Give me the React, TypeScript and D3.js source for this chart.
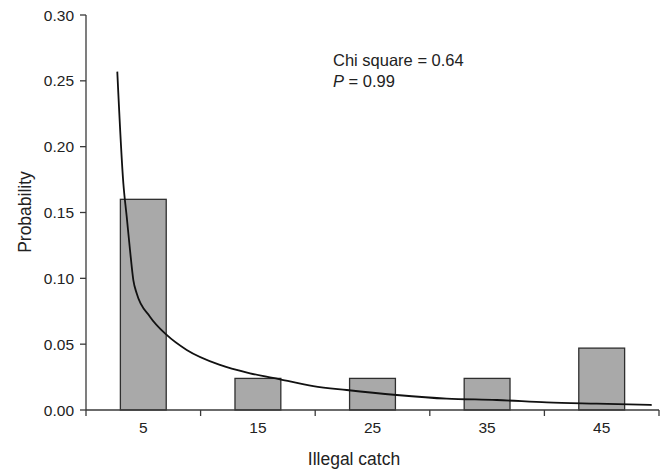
import React from "react";
import * as d3 from "d3";

const categories = ["5", "15", "25", "35", "45"];
const probabilities = [0.16, 0.024, 0.024, 0.024, 0.047];
const yTicks = [0, 0.05, 0.1, 0.15, 0.2, 0.25, 0.3];

// fitted curve (x in catch units, y probability)
const curveX = [2.73, 3.26, 3.55, 3.84, 4.13, 4.42, 5.58, 7.04, 8.79, 11.69, 14.31, 16.93, 19.83, 22.75, 27.11, 31.47, 35.84, 40.2, 44.56, 49.36];
const curveY = [0.257, 0.172, 0.147, 0.1215, 0.0987, 0.0886, 0.0709, 0.057, 0.0456, 0.0342, 0.0279, 0.0233, 0.0182, 0.0152, 0.0114, 0.0086, 0.0076, 0.0058, 0.0048, 0.0038];

const W = 668;
const H = 470;
const left = 86;
const right = 659;
const top = 15;
const bottom = 410;

const FONT = "'Liberation Sans', Arial, Helvetica, sans-serif";

export default function App() {
  const xBand = d3
    .scaleBand<string>()
    .domain(categories)
    .range([left, right])
    .paddingInner(0.6)
    .paddingOuter(0.3);
  const xLin = d3.scaleLinear().domain([0, 50]).range([left, right]);
  const y = d3.scaleLinear().domain([0, 0.3]).range([bottom, top]);

  const pts: [number, number][] = curveX.map((cx, i) => [cx, curveY[i]]);
  const line = d3
    .line<[number, number]>()
    .x((d) => xLin(d[0]))
    .y((d) => y(d[1]))
    .curve(d3.curveMonotoneX);

  const step = xBand.step();
  const boundaries = d3.range(categories.length + 1).map((i) => left + i * step);
  const axisColor = "#3a3a3a";

  return (
    <div style={{ position: "fixed", left: 0, top: 0 }}>
      <svg width={W} height={H} style={{ display: "block", background: "#fff" }}>
        {/* bars */}
        {categories.map((c, i) => (
          <rect
            key={c}
            x={xBand(c)}
            y={y(probabilities[i])}
            width={xBand.bandwidth()}
            height={y(0) - y(probabilities[i])}
            fill="#a9a9a9"
            stroke="#2f2f2f"
            strokeWidth={1.3}
          />
        ))}
        {/* y axis */}
        <line x1={left} x2={left} y1={top} y2={bottom} stroke={axisColor} strokeWidth={1.3} />
        {yTicks.map((t) => (
          <g key={t}>
            <line x1={left - 6} x2={left} y1={y(t)} y2={y(t)} stroke={axisColor} strokeWidth={1.3} />
            <text
              x={left - 12}
              y={y(t)}
              dy="0.36em"
              textAnchor="end"
              fontFamily={FONT}
              fontSize={15.5}
              fill="#222"
            >
              {t.toFixed(2)}
            </text>
          </g>
        ))}
        {/* x axis */}
        <line x1={left} x2={right} y1={bottom} y2={bottom} stroke={axisColor} strokeWidth={1.3} />
        {boundaries.map((b, i) => (
          <line key={i} x1={b} x2={b} y1={bottom} y2={bottom + 6} stroke={axisColor} strokeWidth={1.3} />
        ))}
        {categories.map((c) => (
          <text
            key={c}
            x={(xBand(c) as number) + xBand.bandwidth() / 2}
            y={433}
            textAnchor="middle"
            fontFamily={FONT}
            fontSize={15.5}
            fill="#222"
          >
            {c}
          </text>
        ))}
        {/* curve */}
        <path d={line(pts) || ""} fill="none" stroke="#111" strokeWidth={1.8} />
        {/* axis titles */}
        <text
          x={354}
          y={465}
          textAnchor="middle"
          fontFamily={FONT}
          fontSize={17.5}
          fill="#222"
        >
          Illegal catch
        </text>
        <text
          transform={`translate(31,212) rotate(-90)`}
          textAnchor="middle"
          fontFamily={FONT}
          fontSize={17.5}
          fill="#222"
        >
          Probability
        </text>
        {/* annotation */}
        <text x={333} y={66} fontFamily={FONT} fontSize={16.5} fill="#222">
          Chi square = 0.64
        </text>
        <text x={333} y={87} fontFamily={FONT} fontSize={16.5} fill="#222">
          <tspan fontStyle="italic">P</tspan> = 0.99
        </text>
      </svg>
    </div>
  );
}
